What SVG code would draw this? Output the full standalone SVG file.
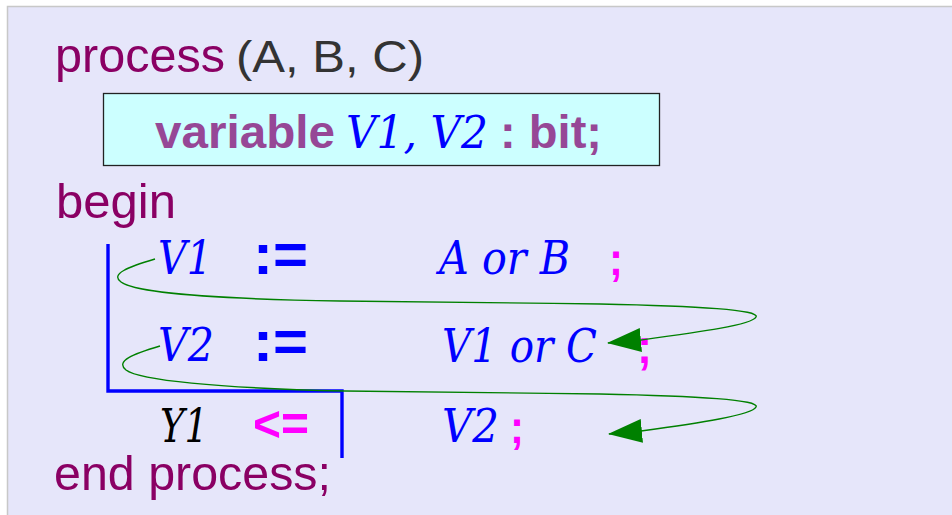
<svg xmlns="http://www.w3.org/2000/svg" width="952" height="515" viewBox="0 0 952 515">
  <style>
    .kw { font-family: "Liberation Sans", Arial, sans-serif; fill: #8a0064; }
    .arg { font-family: "Liberation Sans", Arial, sans-serif; fill: #333333; }
    .decl { font-family: "Liberation Sans", Arial, sans-serif; font-weight: bold; fill: #964796; }
    .var { font-family: "DejaVu Serif", "Liberation Serif", serif; font-style: italic; fill: #0000ff; }
    .blk { font-family: "DejaVu Serif", "Liberation Serif", serif; font-style: italic; fill: #000000; }
    .op { font-family: "Liberation Sans", Arial, sans-serif; font-weight: bold; fill: #0000ff; }
    .mag { font-family: "Liberation Sans", Arial, sans-serif; font-weight: bold; fill: #ff00ff; }
    .flow { fill: none; stroke: #008000; stroke-width: 1.4; marker-end: url(#arr); }
  </style>
  <defs>
    <marker id="arr" markerUnits="userSpaceOnUse" markerWidth="34" markerHeight="24" viewBox="0 0 34 24" refX="33" refY="12" orient="auto">
      <path d="M0,0 L34,12 L0,24 z" fill="#008000"/>
    </marker>
  </defs>

  <rect x="0" y="0" width="952" height="515" fill="#ffffff"/>
  <rect id="slide" x="7.5" y="6.5" width="952" height="520" fill="#e6e6fa" stroke="#c8c8c8" stroke-width="1.5"/>

  <g id="process-header">
    <text class="kw" x="55" y="72" font-size="49" textLength="170" lengthAdjust="spacingAndGlyphs">process</text>
    <text class="arg" x="236" y="72" font-size="44" textLength="188" lengthAdjust="spacingAndGlyphs">(A, B, C)</text>
  </g>

  <g id="var-decl">
    <rect x="103.5" y="93.5" width="556" height="72" fill="#ccffff" stroke="#222222" stroke-width="1.3"/>
    <text class="decl" x="155" y="148" font-size="47" textLength="180" lengthAdjust="spacingAndGlyphs">variable</text>
    <text class="var" x="346" y="148" font-size="45" textLength="142" lengthAdjust="spacingAndGlyphs">V1, V2</text>
    <text class="decl" x="500" y="148" font-size="47" textLength="102" lengthAdjust="spacingAndGlyphs">: bit;</text>
  </g>

  <g id="begin">
    <text class="kw" x="56" y="218" font-size="49" textLength="120" lengthAdjust="spacingAndGlyphs">begin</text>
  </g>

  <g id="bracket">
    <polyline points="108,244 108,391 342,391 342,458" fill="none" stroke="#0000ff" stroke-width="3.4" stroke-linejoin="miter"/>
  </g>

  <g id="stmt-v1">
    <text class="var" x="158" y="274" font-size="46" textLength="54" lengthAdjust="spacingAndGlyphs">V1</text>
    <text class="op" x="253" y="274" font-size="58" textLength="55" lengthAdjust="spacingAndGlyphs">:=</text>
    <text class="var" x="439" y="274" font-size="46" textLength="131" lengthAdjust="spacingAndGlyphs">A or B</text>
    <text class="mag" x="609" y="275" font-size="46" textLength="14" lengthAdjust="spacingAndGlyphs">;</text>
  </g>

  <g id="stmt-v2">
    <text class="var" x="158" y="361" font-size="46" textLength="56" lengthAdjust="spacingAndGlyphs">V2</text>
    <text class="op" x="253" y="361" font-size="58" textLength="55" lengthAdjust="spacingAndGlyphs">:=</text>
    <text class="var" x="442" y="362" font-size="46" textLength="155" lengthAdjust="spacingAndGlyphs">V1 or C</text>
    <text class="mag" x="637" y="363" font-size="48" textLength="15" lengthAdjust="spacingAndGlyphs">;</text>
  </g>

  <g id="stmt-y1">
    <text class="blk" x="160" y="442" font-size="46" textLength="48" lengthAdjust="spacingAndGlyphs">Y1</text>
    <text class="mag" x="253" y="441" font-size="50" textLength="56" lengthAdjust="spacingAndGlyphs">&lt;=</text>
    <text class="var" x="442" y="442" font-size="46" textLength="57" lengthAdjust="spacingAndGlyphs">V2</text>
    <text class="mag" x="510" y="443" font-size="46" textLength="14" lengthAdjust="spacingAndGlyphs">;</text>
  </g>

  <g id="end">
    <text class="kw" x="54" y="490" font-size="49" textLength="277" lengthAdjust="spacingAndGlyphs">end process;</text>
  </g>

  <g id="connectors">
    <path class="flow" d="M155,259 C128,267 110,274 121,282 C134,292 210,299 340,301 C450,302 520,303 600,304 C700,306 760,310 756,317 C752,325 700,332 641,340 L608,343"/>
    <path class="flow" d="M160,346 C133,354 115,361 126,370 C139,380 215,388 345,391 C450,392 520,393 600,394 C700,396 760,400 756,407 C752,415 700,423 641,431 L609,434"/>
  </g>
</svg>
